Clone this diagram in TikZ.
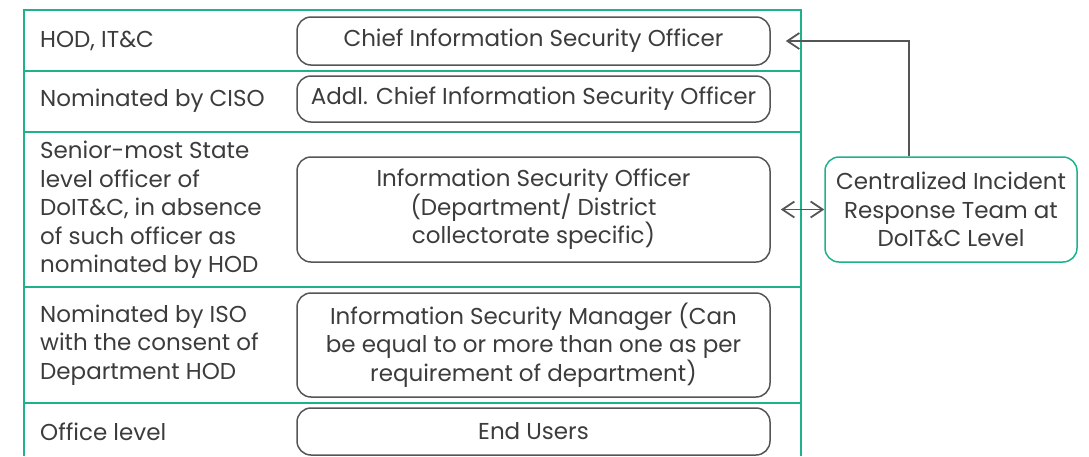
\documentclass[tikz,border=0pt]{standalone}
\usepackage{fontspec}
\setmainfont{Poppins}
\usetikzlibrary{arrows.meta}

\definecolor{tealline}{RGB}{30,178,140}
\definecolor{greytext}{RGB}{60,60,60}
\definecolor{greyline}{RGB}{85,85,85}

\begin{document}
\begin{tikzpicture}[x=1pt,y=-1pt,
        font=\fontsize{23}{28.5}\selectfont,text=greytext,
        role/.style={rounded corners=14pt,draw=greyline,line width=1.5pt,minimum width=473pt,align=center,inner sep=0pt},
        level/.style={anchor=west,align=left,inner sep=0pt},
        link/.style={greyline,line width=1.8pt}]

        %\draw [help lines] (0,0) grid (1089,456);
        \useasboundingbox (0,0) rectangle (1089,456);

        % table frame
        \draw[tealline,line width=2pt] (24,456) -- (24,10) -- (801,10) -- (801,456);
        \foreach \y in {71,132,287,403}
                \draw[tealline,line width=2pt] (24,\y) -- (801,\y);

        \path   (40,41) node (hod) [level] {HOD, IT\&C}
                (40,101) node (byciso) [level] {Nominated by CISO}
                (40,210) node (senior) [level] {Senior-most State\\level officer of\\DoIT\&C, in absence\\of such officer as\\nominated by HOD}
                (40,345) node (byiso) [level] {Nominated by ISO\\with the consent of\\Department HOD}
                (40,432) node (office) [level] {Office level};

        \path   (533.5,41) node (ciso) [role,minimum height=48pt] {Chief Information Security Officer}
                (533.5,99) node (aciso) [role,minimum height=46pt] {Addl. Chief Information Security Officer}
                (533.5,209.5) node (iso) [role,minimum height=105pt] {Information Security Officer\\(Department/ District\\collectorate specific)}
                (533.5,345) node (ism) [role,minimum height=104pt] {Information Security Manager (Can\\be equal to or more than one as per\\requirement of department)}
                (533.5,431.5) node (users) [role,minimum height=47pt] {End Users}
                (951,209.5) node (cirt) [role,draw=tealline,minimum width=252pt,minimum height=105pt] {Centralized Incident\\Response Team at\\DoIT\&C Level};

        \draw[link,-{Straight Barb[length=12pt,width=16pt]}] ([xshift=-42pt]cirt.north) |- ([xshift=15pt]ciso.east);
        \draw[link,{Straight Barb[length=12pt,width=16pt]}-{Straight Barb[length=12pt,width=16pt]}] ([xshift=10pt]iso.east) -- (cirt.west);

\end{tikzpicture}
\end{document}
